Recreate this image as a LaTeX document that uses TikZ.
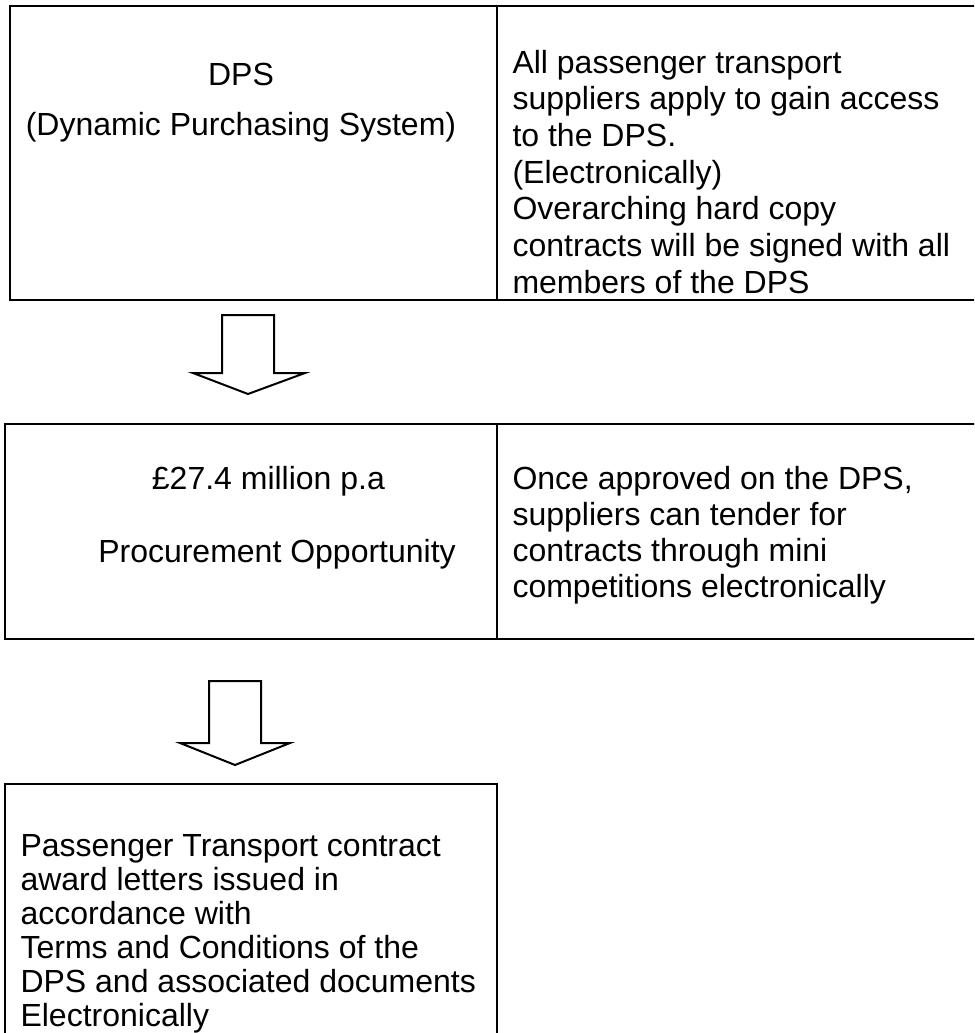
\documentclass[tikz,border=0pt]{standalone}
\usepackage{fontspec}
\setmainfont{Liberation Sans}

\begin{document}
\begin{tikzpicture}[x=0.375pt,y=-0.375pt,line join=miter]
\tikzstyle{cell}=[draw=black,line width=1.1pt]
\tikzstyle{blockarrow}=[draw=black,line width=0.75pt,fill=white]
\tikzstyle{every node}=[inner sep=0pt,text=black]
\tikzset{font=\fontsize{12pt}{13.75pt}\selectfont}

        \clip (0,0) rectangle (974,1033);

        % the three boxes, the first two split in two cells
        \draw[cell] (10,6) rectangle (990,300);
        \draw[cell] (497,6) -- (497,300);
        \draw[cell] (5,424) rectangle (990,639);
        \draw[cell] (497,424) -- (497,639);
        \draw[cell] (5,784) rectangle (497,1050);

        % anchor=base sits on the last line of each text
        \node[anchor=base, align=center]       (dps)    at (241,135) {DPS\\[4.7pt](Dynamic Purchasing System)};
        \node[anchor=base west, align=left]    (access) at (512,293) {All passenger transport\\suppliers apply to gain access\\to the DPS.\\(Electronically)\\Overarching hard copy\\contracts will be signed with all\\members of the DPS};

        \node[anchor=base, align=center]       (value)  at (277,562) {\pounds27.4 million p.a\hspace*{6.4pt}\\[13.3pt]Procurement Opportunity};
        \node[anchor=base west, align=left, font=\fontsize{12pt}{13.4pt}\selectfont]
                                               (tender) at (512,597) {Once approved on the DPS,\\suppliers can tender for\\contracts through mini\\competitions electronically};

        \node[anchor=base west, align=left, font=\fontsize{12pt}{12.75pt}\selectfont]
                                               (award)  at (20,1026) {Passenger Transport contract\\award letters issued in\\accordance with\\Terms and Conditions of the\\DPS and associated documents\\Electronically};

        % block arrows between the boxes
        \coordinate (a1) at (248,315);
        \coordinate (a2) at (235,681);
        \draw[blockarrow] (a1) ++(-26,0) -- ++(0,58) -- ++(-29,0) -- ++(55,21) -- ++(57,-21) -- ++(-31,0) -- ++(0,-58) -- cycle;
        \draw[blockarrow] (a2) ++(-26,0) -- ++(0,62) -- ++(-29,0) -- ++(55,22) -- ++(55,-22) -- ++(-29,0) -- ++(0,-62) -- cycle;

\end{tikzpicture}
\end{document}
